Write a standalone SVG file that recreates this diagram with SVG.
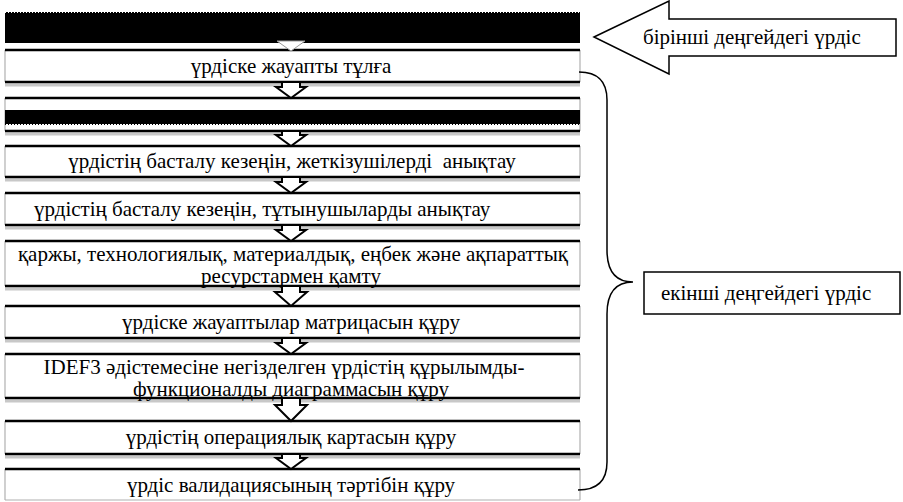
<svg xmlns="http://www.w3.org/2000/svg" width="903" height="502" viewBox="0 0 903 502">
<defs>
<style>
.edge{stroke:#b0b0b0;stroke-width:1.2}
.hl{stroke:#000;stroke-width:2.5}
.sh{stroke:#c8c8c8;stroke-width:3}
.arr{fill:#fff;stroke:#000;stroke-width:2;stroke-linejoin:miter}
.lbl{fill:#fff;stroke:#000;stroke-width:1.5}
</style>
</defs>
<rect width="903" height="502" fill="#fff"/>
<g id="node1">
<rect x="5" y="12" width="575" height="31" fill="#000"/>
<line x1="5" y1="12.5" x2="580" y2="12.5" stroke="#fff" stroke-width="1" stroke-dasharray="1 2"/>
</g>
<g id="node2">
<line class="edge" x1="5" y1="50" x2="5" y2="82"/><line class="edge" x1="580" y1="50" x2="580" y2="82"/>
<line class="sh" x1="5" y1="85" x2="580" y2="85"/>
<line class="hl" x1="5" y1="50" x2="580" y2="50"/><line class="hl" x1="5" y1="82" x2="580" y2="82"/>
<text font-family="Liberation Serif" font-size="21" text-anchor="middle" x="291" y="73">үрдіске жауапты тұлға</text>
</g>
<g id="node3">
<line class="edge" x1="5" y1="98" x2="5" y2="131"/><line class="edge" x1="580" y1="98" x2="580" y2="131"/>
<line class="sh" x1="5" y1="134" x2="580" y2="134"/>
<line class="hl" x1="5" y1="98" x2="580" y2="98"/><line class="hl" x1="5" y1="131" x2="580" y2="131"/>
<rect x="5" y="110" width="575" height="14" fill="#000"/>
<line x1="5" y1="124.5" x2="580" y2="124.5" stroke="#000" stroke-width="1" stroke-dasharray="1 2"/>
</g>
<g id="node4">
<line class="edge" x1="5" y1="146" x2="5" y2="177"/><line class="edge" x1="580" y1="146" x2="580" y2="177"/>
<line class="sh" x1="5" y1="180" x2="580" y2="180"/>
<line class="hl" x1="5" y1="146" x2="580" y2="146"/><line class="hl" x1="5" y1="177" x2="580" y2="177"/>
<text font-family="Liberation Serif" font-size="21" text-anchor="middle" x="292" y="168" xml:space="preserve">үрдістің басталу кезеңін, жеткізушілерді  анықтау</text>
</g>
<g id="node5">
<line class="edge" x1="5" y1="193" x2="5" y2="225"/><line class="edge" x1="580" y1="193" x2="580" y2="225"/>
<line class="sh" x1="5" y1="228" x2="580" y2="228"/>
<line class="hl" x1="5" y1="193" x2="580" y2="193"/><line class="hl" x1="5" y1="225" x2="580" y2="225"/>
<text font-family="Liberation Serif" font-size="21" x="34" y="216">үрдістің басталу кезеңін, тұтынушыларды анықтау</text>
</g>
<g id="node6">
<line class="edge" x1="5" y1="241" x2="5" y2="286"/><line class="edge" x1="580" y1="241" x2="580" y2="286"/>
<line class="sh" x1="5" y1="289" x2="580" y2="289"/>
<line class="hl" x1="5" y1="241" x2="580" y2="241"/><line class="hl" x1="5" y1="286" x2="580" y2="286"/>
<text font-family="Liberation Serif" font-size="21" text-anchor="middle" x="293" y="261">қаржы, технологиялық, материалдық, еңбек және ақпараттық</text>
<text font-family="Liberation Serif" font-size="21" text-anchor="middle" x="291" y="283">ресурстармен қамту</text>
</g>
<g id="node7">
<line class="edge" x1="5" y1="306" x2="5" y2="338"/><line class="edge" x1="580" y1="306" x2="580" y2="338"/>
<line class="sh" x1="5" y1="341" x2="580" y2="341"/>
<line class="hl" x1="5" y1="306" x2="580" y2="306"/><line class="hl" x1="5" y1="338" x2="580" y2="338"/>
<text font-family="Liberation Serif" font-size="21" text-anchor="middle" x="291" y="329">үрдіске жауаптылар матрицасын құру</text>
</g>
<g id="node8">
<line class="edge" x1="5" y1="354" x2="5" y2="398"/><line class="edge" x1="580" y1="354" x2="580" y2="398"/>
<line class="sh" x1="5" y1="401" x2="580" y2="401"/>
<line class="hl" x1="5" y1="354" x2="580" y2="354"/><line class="hl" x1="5" y1="398" x2="580" y2="398"/>
<text font-family="Liberation Serif" font-size="21" text-anchor="middle" x="284" y="374">IDEF3 әдістемесіне негізделген үрдістің құрылымды-</text>
<text font-family="Liberation Serif" font-size="21" text-anchor="middle" x="291" y="396">функционалды диаграммасын құру</text>
</g>
<g id="node9">
<line class="edge" x1="5" y1="421" x2="5" y2="454"/><line class="edge" x1="580" y1="421" x2="580" y2="454"/>
<line class="sh" x1="5" y1="457" x2="580" y2="457"/>
<line class="hl" x1="5" y1="421" x2="580" y2="421"/><line class="hl" x1="5" y1="454" x2="580" y2="454"/>
<text font-family="Liberation Serif" font-size="21" text-anchor="middle" x="291" y="444">үрдістің операциялық картасын құру</text>
</g>
<g id="node10">
<line class="edge" x1="5" y1="469" x2="5" y2="500"/><line class="edge" x1="580" y1="469" x2="580" y2="500"/>
<line class="edge" x1="5" y1="500" x2="580" y2="500"/>
<line class="hl" x1="5" y1="469" x2="580" y2="469"/>
<text font-family="Liberation Serif" font-size="21" text-anchor="middle" x="291" y="492">үрдіс валидациясының тәртібін құру</text>
</g>
<g id="connectors">
<path d="M277 41 L305 41 L291 51 Z" fill="#fff" stroke="#999" stroke-width="1"/>
<path class="arr" d="M282 82 L300 82 L300 87 L306 87 L291 98 L276 87 L282 87 Z"/>
<path class="arr" d="M282 131 L300 131 L300 135 L306 135 L291 146 L276 135 L282 135 Z"/>
<path class="arr" d="M282 177 L300 177 L300 182 L306 182 L291 193 L276 182 L282 182 Z"/>
<path class="arr" d="M282 225 L300 225 L300 230 L306 230 L291 241 L276 230 L282 230 Z"/>
<path class="arr" d="M282 286 L300 286 L300 292 L307 292 L291 306 L275 292 L282 292 Z"/>
<path class="arr" d="M282 338 L300 338 L300 343 L306 343 L291 354 L276 343 L282 343 Z"/>
<path class="arr" d="M282 398 L300 398 L300 405 L307 405 L291 421 L275 405 L282 405 Z"/>
<path class="arr" d="M282 454 L300 454 L300 458 L306 458 L291 469 L276 458 L282 458 Z"/>
</g>
<g id="brace">
<path d="M579 72 Q607 72 607 100 L607 250 Q607 282 633 282 Q607 282 607 314 L607 462 Q607 490 578 490" fill="none" stroke="#000" stroke-width="1.5"/>
</g>
<g id="level1">
<polygon class="lbl" points="594,37 669,1 669,19 896,19 896,56 669,56 669,74"/>
<text font-family="Liberation Serif" font-size="21" x="643" y="44">бірінші деңгейдегі үрдіс</text>
</g>
<g id="level2">
<rect class="lbl" x="644" y="272" width="256" height="42"/>
<text font-family="Liberation Serif" font-size="21" x="661" y="300">екінші деңгейдегі үрдіс</text>
</g>
</svg>
